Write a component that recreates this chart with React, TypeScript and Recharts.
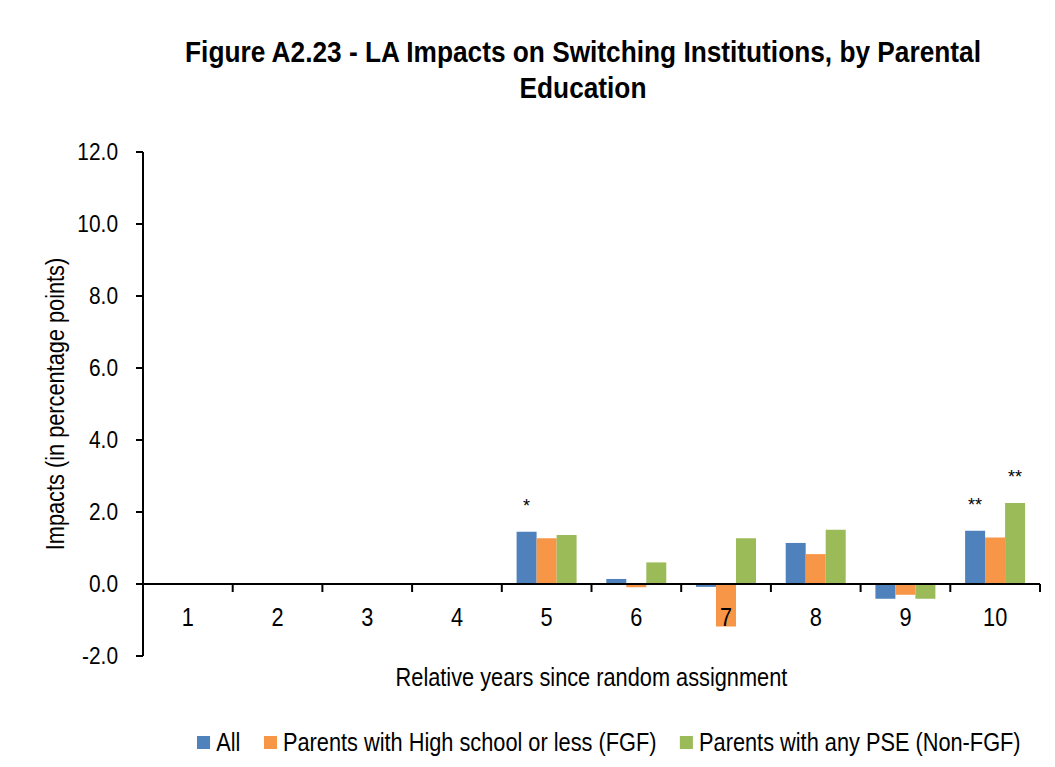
import React from 'react';
import { BarChart, Bar, XAxis, YAxis, ReferenceLine, LabelList } from 'recharts';

const categories = ['1', '2', '3', '4', '5', '6', '7', '8', '9', '10'];
const allValues = [null, null, null, null, 1.45, 0.14, -0.08, 1.14, -0.41, 1.48];
const fgfValues = [null, null, null, null, 1.27, -0.09, -1.18, 0.83, -0.3, 1.29];
const nonFgfValues = [null, null, null, null, 1.36, 0.6, 1.27, 1.51, -0.41, 2.25];
const allSig = ['', '', '', '', '*', '', '', '', '', '**'];
const fgfSig = ['', '', '', '', '', '', '', '', '', ''];
const nonFgfSig = ['', '', '', '', '', '', '', '', '', '**'];
const yTicks = [-2, 0, 2, 4, 6, 8, 10, 12];

const seriesNames = ['All', 'Parents with High school or less (FGF)', 'Parents with any PSE (Non-FGF)'];
const seriesColors = ['#4F81BD', '#F79646', '#9BBB59'];
const seriesKeys = ['all', 'fgf', 'nonFgf'];

const data = categories.map((c, i) => ({
  year: c,
  all: allValues[i],
  fgf: fgfValues[i],
  nonFgf: nonFgfValues[i],
  allSig: allSig[i],
  fgfSig: fgfSig[i],
  nonFgfSig: nonFgfSig[i],
}));

const FONT = '"Liberation Sans Narrow", "Arial Narrow", "Liberation Sans", Arial, sans-serif';
const SX = 0.87;

const ZeroAxis = (props: any) => {
  const { x1, y1, x2 } = props;
  const n = categories.length;
  const step = (x2 - x1) / n;
  const ticks = [];
  for (let i = 0; i <= n; i++) {
    const tx = x1 + i * step;
    ticks.push(<line key={'t' + i} x1={tx} x2={tx} y1={y1} y2={y1 + 8} stroke="#000" strokeWidth={2} />);
  }
  return (
    <g>
      <line x1={x1} x2={x2} y1={y1} y2={y1} stroke="#000" strokeWidth={2} />
      {ticks}
      {categories.map((c, i) => (
        <text
          key={'l' + i}
          transform={`translate(${x1 + (i + 0.5) * step} ${y1 + 33}) scale(${SX} 1)`}
          x={0}
          y={0}
          textAnchor="middle"
          dominantBaseline="central"
          fontFamily={FONT}
          fontSize={25}
          fill="#000"
        >
          {c}
        </text>
      ))}
    </g>
  );
};

const SigLabel = (p: any) => {
  const { x, y, width, value } = p;
  if (!value) return null;
  return (
    <text x={x + width / 2} y={y - 20} textAnchor="middle" fontFamily='"Liberation Sans", Arial, sans-serif' fontSize={18} fill="#000">
      {value}
    </text>
  );
};

const YTick = (p: any) => {
  const { x, y, payload } = p;
  return (
    <text
      transform={`translate(${x} ${y}) scale(${SX} 1)`}
      x={0}
      y={0}
      textAnchor="end"
      dominantBaseline="central"
      fontFamily={FONT}
      fontSize={24}
      fill="#000"
    >
      {Number(payload.value).toFixed(1)}
    </text>
  );
};

const YLabel = (p: any) => {
  const { viewBox } = p;
  const cx = viewBox.x + 12;
  const cy = viewBox.y + viewBox.height / 2;
  return (
    <text
      transform={`translate(${cx} ${cy}) rotate(-90) scale(${SX} 1)`}
      x={0}
      y={0}
      textAnchor="middle"
      dominantBaseline="central"
      fontFamily={FONT}
      fontSize={25}
      fill="#000"
    >
      Impacts (in percentage points)
    </text>
  );
};

export default function App() {
  return (
    <div style={{ margin: -8, width: 1055, height: 767, position: 'relative', overflow: 'hidden', background: '#fff' }}>
      <div
        style={{
          position: 'absolute',
          top: 34,
          left: 0,
          width: 1166,
          textAlign: 'center',
          fontFamily: FONT,
          fontWeight: 'bold',
          fontSize: 30,
          lineHeight: '36px',
          color: '#000',
          transform: 'scaleX(0.875)',
          transformOrigin: '583px 0',
          whiteSpace: 'nowrap',
        }}
      >
        Figure A2.23 - LA Impacts on Switching Institutions, by Parental
        <br />
        Education
      </div>
      <div style={{ position: 'absolute', left: 0, top: 0 }}>
        <BarChart
          width={1055}
          height={767}
          data={data}
          margin={{ top: 152, right: 15, left: 43, bottom: 111 }}
          barCategoryGap="16.5%"
          barGap={0}
        >
          <XAxis dataKey="year" hide />
          <YAxis
            width={100}
            domain={[-2, 12]}
            ticks={yTicks}
            interval={0}
            allowDataOverflow
            tickSize={7}
            tickMargin={18}
            stroke="#000"
            strokeWidth={2}
            tick={YTick}
            label={{ content: YLabel }}
          />
          {seriesKeys.map((k, i) => (
            <Bar key={k} dataKey={k} name={seriesNames[i]} fill={seriesColors[i]} isAnimationActive={false}>
              <LabelList dataKey={k + 'Sig'} content={SigLabel} />
            </Bar>
          ))}
          <ReferenceLine y={0} shape={ZeroAxis} ifOverflow="visible" />
        </BarChart>
      </div>
      <div
        style={{
          position: 'absolute',
          top: 663,
          left: 143,
          width: 897,
          textAlign: 'center',
          fontFamily: FONT,
          fontSize: 25,
          lineHeight: '28px',
          color: '#000',
          transform: `scaleX(${SX})`,
          transformOrigin: '448px 0',
          whiteSpace: 'nowrap',
        }}
      >
        Relative years since random assignment
      </div>
      <div
        style={{
          position: 'absolute',
          top: 728,
          left: 197,
          display: 'flex',
          alignItems: 'center',
          fontFamily: FONT,
          fontSize: 25,
          lineHeight: '28px',
          color: '#000',
          whiteSpace: 'nowrap',
          transform: `scaleX(${SX})`,
          transformOrigin: '0 0',
        }}
      >
        {seriesNames.map((n, i) => (
          <div key={n} style={{ display: 'flex', alignItems: 'center', marginRight: 27 }}>
            <span style={{ display: 'inline-block', width: 15, height: 13, background: seriesColors[i], marginRight: 7 }} />
            <span>{n}</span>
          </div>
        ))}
      </div>
      <svg
        width={1055}
        height={767}
        style={{ position: 'absolute', left: 0, top: 0, zIndex: 10, pointerEvents: 'none' }}
      >
        <path d="M5 767 V5 H1055" fill="none" stroke="#000" strokeWidth={2} />
      </svg>
    </div>
  );
}
